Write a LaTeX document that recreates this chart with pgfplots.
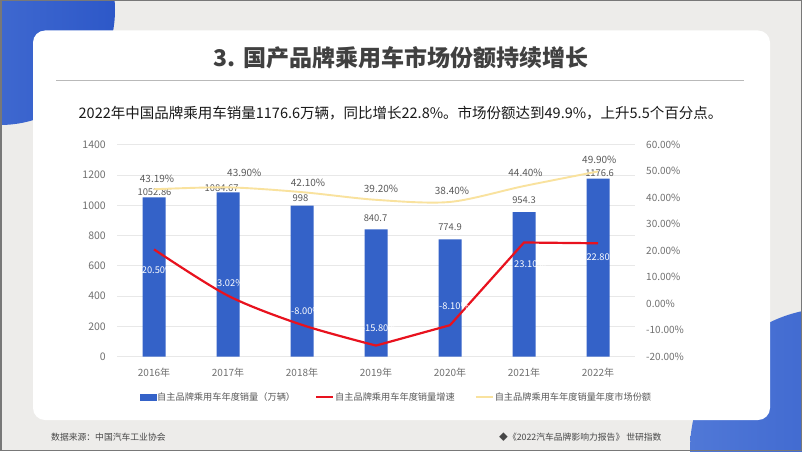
\documentclass[border=0pt]{standalone}
\usepackage{pgfplots}
\pgfplotsset{compat=1.18}
\usepackage{pgfplotstable}
\usepackage{fontspec}
\setmainfont{Noto Sans CJK SC}
\definecolor{barblue}{RGB}{52,98,200}
\definecolor{linered}{RGB}{232,18,30}
\definecolor{lineyellow}{RGB}{249,226,158}
\definecolor{gridgray}{RGB}{232,232,232}
\definecolor{ticktxt}{RGB}{112,112,112}
\definecolor{labtxt}{RGB}{90,90,90}
\definecolor{slidebg}{RGB}{237,236,234}
\definecolor{decoA}{RGB}{80,120,215}
\definecolor{decoB}{RGB}{45,88,200}
\definecolor{titletxt}{RGB}{64,64,64}

\pgfplotstableread{
x sales growth share
0 1052.86 20.50 43.19
1 1084.67 3.02 43.90
2 998 -8.00 42.10
3 840.7 -15.80 39.20
4 774.9 -8.10 38.40
5 954.3 23.10 44.40
6 1176.6 22.80 49.90
}\datatable

\begin{document}
\begin{tikzpicture}[x=1pt,y=1pt,
  lab/.style={anchor=base, inner sep=0pt, font=\fontsize{10}{12}\selectfont, text=labtxt},
  blab/.style={anchor=base, inner sep=0pt, font=\fontsize{9.4}{11}\selectfont, text=labtxt},
  wlab/.style={anchor=base west, inner sep=0pt, font=\fontsize{9.3}{11}\selectfont, text=white}]
\useasboundingbox (0,0) rectangle (802,451);
% slide background
\fill[slidebg] (0,0) rectangle (802,451);
\shade[left color=decoA, right color=decoB] (0,441) circle (115);
\shade[left color=decoA, right color=decoB] (832,1) circle (142);
% card
\fill[white, rounded corners=12pt] (33,31) rectangle (770,420.5);
% title
\node[anchor=center, inner sep=0pt, text=titletxt, font=\fontsize{23}{27}\selectfont\bfseries] at (401,393) {3. 国产品牌乘用车市场份额持续增长};
\draw[color={rgb,255:red,185;green,185;blue,185}, line width=1pt] (56,371) -- (744,371);
\node[anchor=center, inner sep=0pt, text={rgb,255:red,25;green,25;blue,25}, font=\fontsize{14.5}{17}\selectfont] at (400.5,338) {2022年中国品牌乘用车销量1176.6万辆，同比增长22.8\%。市场份额达到49.9\%，上升5.5个百分点。};
% footer
\node[anchor=west, inner sep=0pt, text={rgb,255:red,70;green,70;blue,70}, font=\fontsize{8.8}{10}\selectfont] at (51,14) {数据来源：中国汽车工业协会};
\node[anchor=west, inner sep=0pt, text={rgb,255:red,70;green,70;blue,70}, font=\fontsize{8.8}{10}\selectfont] at (499,14) {◆《2022汽车品牌影响力报告》 世研指数};

% left axis: bars
\begin{axis}[
  at={(117pt,94.3pt)}, anchor=south west, scale only axis,
  width=518pt, height=212pt,
  xmin=-0.5, xmax=6.5, ymin=0, ymax=1400,
  ytick={0,200,...,1400},
  xtick={0,...,6},
  xticklabels={2016年,2017年,2018年,2019年,2020年,2021年,2022年},
  axis line style={draw=none}, major tick length=0pt,
  ymajorgrids, grid style={gridgray, line width=0.8pt},
  tick label style={font=\fontsize{10}{12}\selectfont, text=ticktxt},
  yticklabel style={font=\fontsize{10.5}{12}\selectfont, inner sep=0pt, anchor=east, xshift=-11pt},
  /pgf/number format/assume math mode=true,
  /pgf/number format/1000 sep={},
  xticklabel style={inner sep=0pt, anchor=north, yshift=-11pt},
  clip=false,
]
\addplot[ybar, bar width=23pt, fill=barblue, draw=none] table[x=x,y=sales]{\datatable};
\node[blab, xshift=0.5pt, yshift=1.7pt] at (axis cs:0,1052.86) {1052.86};
\node[blab, xshift=-6.4pt, yshift=0.6pt] at (axis cs:1,1084.67) {1084.67};
\node[blab, xshift=-1.5pt, yshift=3.7pt] at (axis cs:2,998) {998};
\node[blab, xshift=-0.5pt, yshift=8.1pt] at (axis cs:3,840.7) {840.7};
\node[blab, xshift=0pt, yshift=9.1pt] at (axis cs:4,774.9) {774.9};
\node[blab, xshift=0pt, yshift=8.6pt] at (axis cs:5,954.3) {954.3};
\node[blab, xshift=1.6pt, yshift=2.3pt] at (axis cs:6,1176.6) {1176.6};
\end{axis}

% right axis: lines
\begin{axis}[
  at={(117pt,94.3pt)}, anchor=south west, scale only axis,
  width=518pt, height=212pt,
  xmin=-0.5, xmax=6.5, ymin=-20, ymax=60,
  ytick={-20,-10,...,60},
  axis y line*=right, axis x line=none,
  axis line style={draw=none}, major tick length=0pt,
  tick label style={font=\fontsize{10}{12}\selectfont, text=ticktxt},
  /pgf/number format/assume math mode=true,
  yticklabel={\pgfmathprintnumber[fixed,fixed zerofill,precision=2]{\tick}\%},
  yticklabel style={inner sep=0pt, anchor=west, xshift=11pt},
  clip=false,
  legend columns=3,
  legend style={at={(0.5386,-0.190)}, anchor=center, draw=none, fill=none,
    font=\fontsize{9.2}{11}\selectfont, text={rgb,255:red,89;green,89;blue,89},
    nodes={inner sep=1pt},
    /tikz/every even column/.append style={column sep=19pt}},
]
\addlegendimage{legend image code/.code={\fill[barblue] (0pt,-3pt) rectangle (16pt,3pt);}}
\addlegendentry{自主品牌乘用车年度销量（万辆）}
\addlegendimage{legend image code/.code={\draw[linered, line width=2pt] (0pt,0pt) -- (17pt,0pt);}}
\addlegendentry{自主品牌乘用车年度销量增速}
\addlegendimage{legend image code/.code={\draw[lineyellow, line width=2pt] (0pt,0pt) -- (17pt,0pt);}}
\addlegendentry{自主品牌乘用车年度销量年度市场份额}

\addplot[lineyellow, line width=1.9pt, smooth, forget plot] table[x=x,y=share]{\datatable};
\addplot[linered, line width=2.2pt, smooth, forget plot, restrict x to domain=0:3] table[x=x,y=growth]{\datatable};
\addplot[linered, line width=2.2pt, sharp plot, forget plot, restrict x to domain=3:6] table[x=x,y=growth]{\datatable};

\node[lab, xshift=3pt, yshift=6.7pt] at (axis cs:0,43.19) {43.19\%};
\node[lab, xshift=16.3pt, yshift=10.5pt] at (axis cs:1,43.90) {43.90\%};
\node[lab, xshift=6pt, yshift=5.3pt] at (axis cs:2,42.10) {42.10\%};
\node[lab, xshift=5pt, yshift=6.9pt] at (axis cs:3,39.20) {39.20\%};
\node[lab, xshift=2pt, yshift=7.3pt] at (axis cs:4,38.40) {38.40\%};
\node[lab, xshift=1.5pt, yshift=9.2pt] at (axis cs:5,44.40) {44.40\%};
\node[lab, xshift=1.3pt, yshift=7.9pt] at (axis cs:6,49.90) {49.90\%};

\node[wlab, xshift=-12.3pt, yshift=-24pt] at (axis cs:0,20.50) {20.50\%};
\node[wlab, xshift=-11pt, yshift=9pt] at (axis cs:1,3.02) {3.02\%};
\node[wlab, xshift=-11pt, yshift=10.5pt] at (axis cs:2,-8.00) {-8.00\%};
\node[wlab, xshift=-14.3pt, yshift=14.5pt] at (axis cs:3,-15.80) {-15.80\%};
\node[wlab, xshift=-11pt, yshift=16.1pt] at (axis cs:4,-8.10) {-8.10\%};
\node[wlab, xshift=-10pt, yshift=-24.9pt] at (axis cs:5,23.10) {23.10\%};
\node[wlab, xshift=-11.7pt, yshift=-16.8pt] at (axis cs:6,22.80) {22.80\%};
\end{axis}
\draw[color={rgb,255:red,120;green,120;blue,120}, line width=1.5pt] (0.75,0.75) rectangle (801.25,450.25);
\end{tikzpicture}
\end{document}
